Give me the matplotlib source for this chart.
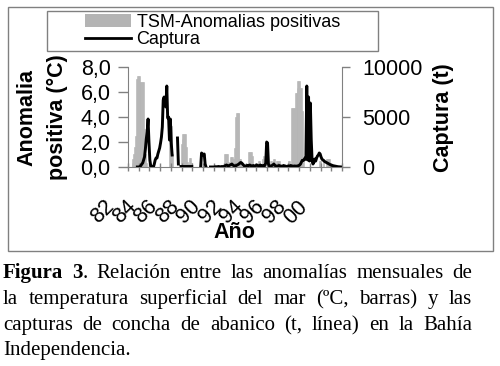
import numpy as np
import matplotlib
matplotlib.use('Agg')
import matplotlib.pyplot as plt
from matplotlib.patches import Rectangle, Patch
from matplotlib.lines import Line2D
from matplotlib.transforms import IdentityTransform, ScaledTranslation

nan = np.nan

# positive SST anomaly (C), one row per year, Jan 1982 .. Dec 2001
tsm = np.array([
    [0, 0, 0, 0, 0.3, 0.6, 1.0, 1.6, 2.5, 7.0, 7.3, 7.3],        # 82
    [7.3, 6.8, 6.8, 6.8, 6.8, 6.8, 3.0, 1.0, 0.3, 0, 0, 0],       # 83
    [0, 0, 0, 0, 0, 0, 0, 0, 0, 0, 0, 0],                         # 84
    [0, 0, 0, 0, 0, 0, 0, 0, 0, 0, 2.8, 3.3],                     # 85
    [3.3, 1.0, 0, 0, 0, 0, 0, 0, 0, 0, 0, 1.8],                   # 86
    [2.2, 2.6, 2.6, 2.6, 2.6, 1.6, 0.4, 0.2, 0.75, 0.75, 0.75, 0.3],  # 87
    [0, 0, 0, 0, 0, 0, 0, 0, 0, 0, 0, 0],                         # 88
    [0, 0, 0, 0, 0, 0, 0, 0, 0, 0, 0, 0],                         # 89
    [0, 0, 0, 0, 0, 0, 0, 0, 0, 0, 0, 0],                         # 90
    [1.0, 1.0, 1.0, 1.0, 0.4, 0.2, 0.8, 0.8, 0.8, 0.8, 0.6, 1.5], # 91
    [4.0, 4.3, 4.3, 4.3, 4.3, 0.6, 0.6, 0.3, 0, 0, 0, 0],         # 92
    [0, 0, 0, 1.2, 1.2, 1.2, 1.2, 0.85, 0, 0, 0.3, 0.3],          # 93
    [0, 0, 0.45, 0.45, 0, 0, 0.6, 0.85, 0.6, 0.6, 0, 0],          # 94
    [0, 0, 0, 0.5, 0.5, 0, 0, 0.6, 0.6, 0, 0.45, 0.45],           # 95
    [0.45, 0.45, 0, 0, 0, 0, 0, 0, 0, 0, 0, 0.5],                 # 96
    [0.5, 0.5, 0, 4.7, 4.7, 4.7, 4.7, 5.9, 5.9, 6.3, 6.9, 6.9],   # 97
    [6.9, 6.3, 6.3, 4.5, 0.5, 0, 0, 0, 0, 0, 0, 0],               # 98
    [0, 0, 0, 0, 0, 0, 0, 0, 0, 0, 0.5, 0.5],                     # 99
    [0.4, 0, 0, 0.5, 0, 0, 0.6, 0.6, 0.6, 0.6, 0.4, 0],           # 00
    [0, 0, 0, 0, 0, 0, 0, 0, 0, 0, 0, 0],                         # 01
])

# scallop catch (t), same months, nan = no data
captura = np.array([
    [nan, nan, nan, nan, nan, nan, nan, nan, nan, nan, 0, 0],                 # 82
    [0, 50, 150, 300, 400, 700, 1000, 1800, 2800, 3500, 4800, 2500],          # 83
    [700, 100, 0, 0, 0, 300, 700, 900, 900, 1300, 1600, 1900],                # 84
    [2400, 3000, 4000, 6700, 7000, 6400, 6000, 8100, 4900, 5000, 2700, 4800], # 85
    [2400, 1200, nan, nan, nan, nan, nan, 2900, 300, nan, nan, 50],           # 86
    [50, 50, 50, 50, 50, 50, 50, 50, 50, 50, 50, 50],                         # 87
    [nan, nan, nan, nan, nan, nan, nan, nan, nan, 0, 1400, 1300],             # 88
    [1200, 1300, 300, 0, nan, nan, nan, nan, 0, 0, 0, 0],                     # 89
    [0, 20, 30, 20, 30, 50, 30, 20, 40, 50, 30, 50],                          # 90
    [100, 150, 200, 150, 100, 150, 200, 250, 300, 200, 150, 100],             # 91
    [100, 150, 200, 250, 300, 400, 450, 400, 300, 200, 100, 100],             # 92
    [100, 150, 100, 150, 200, 150, 100, 100, 150, 100, 100, 150],             # 93
    [200, 150, 100, 150, 200, 100, 100, 150, 100, 150, 400, 2500],            # 94
    [2400, 300, 100, 100, 100, 150, 200, 300, 200, 100, 100, 100],            # 95
    [100, 150, 100, 100, 50, 100, 150, 100, 100, 50, 50, 100],                # 96
    [100, 100, 150, 100, 100, 50, 100, 100, 50, 100, 100, 150],               # 97
    [200, 300, 500, 670, 670, 700, 900, 800, 8100, 700, 7000, 600],           # 98
    [6400, 2700, 600, 300, 500, 800, 600, 900, 1100, 1200, 1400, 1300],       # 99
    [1000, 800, 700, 650, 550, 500, 450, 400, 350, 300, 250, 200],            # 00
    [170, 150, 120, 100, 80, 60, 40, 30, 20, 10, 0, 0],                       # 01
])

year_labels = ['82', '84', '86', '88', '90', '92', '94', '96', '98', '00']
left_ticks = [0, 2, 4, 6, 8]
right_ticks = [0, 5000, 10000]

caption_lines = [
    'Figura 3. Relación entre las anomalías mensuales de',
    'la temperatura superficial del mar (ºC, barras) y las',
    'capturas de concha de abanico (t, línea) en la Bahía',
    'Independencia.',
]

W, H = 500, 366
plt.rcParams['font.family'] = 'Liberation Sans'
fig = plt.figure(figsize=(W / 100, H / 100), dpi=100)

bar_col = '#b4b4b4'
ax = fig.add_axes([128 / W, 1 - 167 / H, 214 / W, 100 / H])
x = np.arange(tsm.size) + 0.5
ax.bar(x, tsm.ravel(), width=1.0, color=bar_col, edgecolor=bar_col,
       linewidth=0.4)
ax.set_xlim(0, tsm.size)
ax.set_ylim(0, 8)
ax.set_yticks(left_ticks)
ax.set_yticklabels([('%.1f' % v).replace('.', ',') for v in left_ticks])

ax2 = ax.twinx()
ax2.plot(x, captura.ravel(), color='black', lw=2.1)
ax2.set_ylim(0, 10000)
ax2.set_yticks(right_ticks)
ax2.set_yticklabels([str(v) for v in right_ticks])

gray = '#808080'
for a in (ax, ax2):
    a.spines['top'].set_visible(False)
ax.spines['right'].set_visible(False)
ax2.spines['left'].set_visible(False)
ax2.spines['bottom'].set_visible(False)
ax.spines['left'].set_color(gray)
ax.spines['bottom'].set_color(gray)
ax2.spines['right'].set_color(gray)

ax.tick_params(axis='y', direction='out', length=7, width=1, color=gray,
               pad=5.5, labelsize=15.5)
ax2.tick_params(axis='y', direction='out', length=6, width=1, color=gray,
                pad=8.5, labelsize=15.5)

xt = np.arange(0, tsm.size + 1, 12)
ax.set_xticks(xt)
labs = []
for i in range(len(xt)):
    labs.append(year_labels[i // 2] if i % 2 == 0 and i // 2 < len(year_labels) else '')
ax.set_xticklabels(labs, rotation=45, ha='right')
ax.tick_params(axis='x', direction='inout', length=6, width=1, color=gray,
               pad=18, labelsize=15.5)
shift = ScaledTranslation(-9 / 100, 0, fig.dpi_scale_trans)
for t in ax.get_xticklabels():
    t.set_transform(t.get_transform() + shift)

fig.text(234 / W, 1 - 232 / H, 'Año', ha='center', va='center',
         weight='bold', size=15.5)
fig.text(27 / W, 1 - 117 / H, 'Anomalia', rotation=90, ha='center',
         va='center', weight='bold', size=15.5)
fig.text(57 / W, 1 - 117 / H, 'positiva (°C)', rotation=90, ha='center',
         va='center', weight='bold', size=15.5)
fig.text(444 / W, 1 - 118 / H, 'Captura (t)', rotation=90, ha='center',
         va='center', weight='bold', size=15.5)

handles = [Patch(facecolor=bar_col, edgecolor='none'),
           Line2D([], [], color='black', lw=2)]
fig.legend(handles, ['TSM-Anomalias positivas', 'Captura'], loc='center',
           bbox_to_anchor=(212.5 / W, 1 - 31 / H), frameon=False,
           fontsize=13, handlelength=2.55, handletextpad=0.3,
           labelspacing=0.0, borderpad=0)

# outer chart frame and legend frame
fig.patches.append(Rectangle((8 / W, 1 - 251 / H), 485 / W, 244 / H,
                             transform=fig.transFigure, fill=False,
                             edgecolor=gray, lw=1))
fig.patches.append(Rectangle((47 / W, 1 - 51 / H), 331 / W, 40 / H,
                             transform=fig.transFigure, fill=False,
                             edgecolor=gray, lw=1))

# justified caption
r = fig.canvas.get_renderer()
baselines = [278, 304, 330, 355]
x0, x1 = 3, 472
for i, line in enumerate(caption_lines):
    words = []
    for w in line.split():
        segs = [(w, 'normal')]
        if i == 0 and w == 'Figura':
            segs = [(w, 'bold')]
        elif i == 0 and w == '3.':
            segs = [('3', 'bold'), ('.', 'normal')]
        texts = [fig.text(0, 0, s, transform=IdentityTransform(),
                          family='Liberation Serif', size=15, weight=wt,
                          va='baseline') for s, wt in segs]
        wid = [t.get_window_extent(r).width for t in texts]
        words.append((texts, wid))
    total = sum(sum(wd) for _, wd in words)
    if i < 3:
        gap = (x1 - x0 - total) / (len(words) - 1)
    else:
        gap = 5
    xp = x0
    for texts, wid in words:
        for t, wd in zip(texts, wid):
            t.set_position((xp, H - baselines[i]))
            xp += wd
        xp += gap

fig.savefig('out.png', dpi=100)
